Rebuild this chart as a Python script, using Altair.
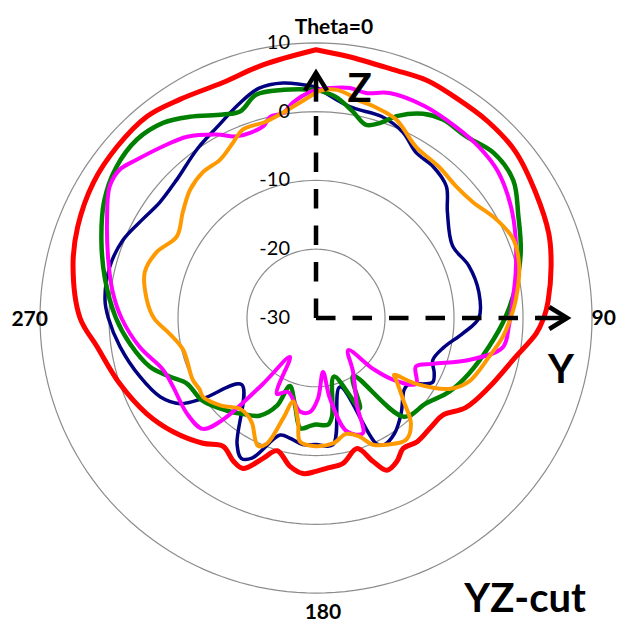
import altair as alt
import pandas as pd

# ---------------- data (theta in degrees clockwise from top, value in dB) ----------------
RED_THETA = [0, 7, 17, 25, 32, 41, 50, 60, 70, 77.5, 86, 90, 94, 101, 112, 121, 127.4, 133.5, 140.8, 146.4,
             150.6, 155.1, 158.4, 162.6, 169.5, 175.8, 180, 184.8, 189.9, 196.3, 200.6, 205.8, 210, 215.8, 222,
             231.4, 240.4, 251.4, 262.5, 270, 282, 291, 301.4, 310.8, 320.1, 328.2, 338.5, 348.2, 360]
RED_DB = [9.0, 8.3, 7.8, 8.1, 7.9, 7.9, 7.7, 6.7, 5.9, 4.9, 3.7, 3.0, 2.0, -0.5, -3.0, -4.7, -6.8, -7.0, -6.8, -7.2,
          -6.1, -5.6, -7.6, -10.1, -8.5, -8.1, -7.7, -7.3, -8.1, -9.9, -8.2, -5.7, -6.0, -7.0, -5.5,
          -3.5, -1.8, 0.0, 2.0, 4.2, 6.0, 7.0, 7.8, 8.1, 8.2, 7.4, 6.8, 7.6, 9.0]

NAVY_THETA = [0, 9, 18, 25, 31, 37.6, 44.6, 51, 62, 71, 81, 90, 96, 103, 110, 115, 119, 126, 129.3, 138.5,
              146, 152, 154.5, 161, 172.4, 180, 186, 192, 197, 204.5, 208, 212, 228, 234.4, 237.7, 243,
              251.5, 261.6, 270, 275, 284, 292, 300, 306.6, 315, 325, 333, 340, 346, 352, 360]
NAVY_DB = [3.6, 1.1, 0.8, -0.2, -1.9, -2.2, -3.1, -5.5, -7.6, -6.6, -6.1, -6.4, -8.6, -11.0, -12.0, -11.1, -10.7,
           -13.5, -13.5, -11.4, -9.7, -9.1, -9.8, -19.4, -11.4, -11.6, -11.5, -12.1, -12.2, -7.6, -6.9, -8.4,
           -15.5, -9.9, -6.7, -4.7, -3.1, -1.3, 0.1, 0.7, 0.8, 0.2, -1.1, -1.8, -1.5, 0.0, 1.3, 3.0, 4.4, 4.5, 3.6]

GREEN_THETA = [0, 5, 10, 14.5, 18, 22, 27.6, 32.5, 39.5, 47, 55, 63, 72, 81, 90, 99.5, 110, 119, 128, 138.4,
               147.5, 154.2, 163, 170.8, 173.6, 180, 183, 188, 193.4, 201, 204, 210, 217, 224, 234, 243, 248,
               253.6, 262, 270, 280.5, 290, 299, 307, 315, 322, 328, 335.5, 340, 345, 352, 360]
GREEN_DB = [3.2, 2.3, 0.5, -1.0, -0.2, 1.7, 3.5, 4.2, 4.2, 5.2, 4.9, 2.9, 1.2, -0.7, -2.6, -4.6, -6.4, -7.9, -9.8,
            -10.8, -20.0, -15.4, -21.1, -15.5, -14.4, -14.5, -14.3, -13.8, -16.9, -19.4, -16.0, -13.6, -12.5,
            -11.3, -9.6, -9.0, -7.2, -4.9, -2.8, -1.0, 1.1, 3.1, 5.1, 6.3, 6.7, 6.0, 4.5, 2.5, 2.0, 3.6, 3.5, 3.2]

MAGENTA_THETA = [0, 3.5, 8.4, 12.5, 18, 27, 36, 43.5, 51, 60, 68, 77, 85, 92, 99, 105.4, 111.5, 116, 123.4,
                 128.8, 131.8, 135, 145.6, 155, 158, 164.8, 170.2, 172.6, 178.6, 183.7, 189.7, 200.7, 207.2,
                 213.7, 218.8, 222.4, 225.5, 233.3, 244.2, 251.2, 260.6, 270, 277.3, 285.8, 295.3, 302.6,
                 307.2, 311.6, 318.3, 324.7, 331.7, 336.5, 344.6, 347.2, 351, 353.9, 358.5, 360]
MAGENTA_DB = [3.1, 3.5, 3.8, 3.5, 4.4, 4.6, 4.4, 4.3, 3.9, 2.6, 1.2, -0.3, -1.4, -2.0, -2.6, -7.0, -11.8, -13.9,
              -12.6, -15.7, -18.9, -23.4, -20.5, -15.9, -11.9, -12.9, -18.1, -22.1, -18.3, -16.3, -16.2, -18.5,
              -17.6, -23.2, -17.7, -10.0, -7.0, -6.7, -7.0, -6.6, -4.1, -1.8, -0.3, 1.3, 3.5, 5.5, 5.7, 4.7,
              3.4, 2.3, 0.3, -1.2, -1.1, 0.0, 0.2, 1.5, 2.9, 3.1]

ORANGE_THETA = [0, 2, 5.2, 8.4, 10.6, 16, 22, 30.2, 39, 46.7, 53.5, 61.2, 68.1, 75.6, 84.6, 90, 95.8, 102.7,
                112.7, 118.1, 123.4, 126.2, 127.8, 133.7, 138.1, 143.6, 150.1, 155.8, 160.1, 165.5, 172.3,
                181.3, 187.4, 189.8, 195.3, 198.1, 201.3, 204.4, 211.1, 214.8, 219.9, 227.5, 235, 238.5, 243.2,
                256.5, 263.7, 270, 276.4, 285.1, 292.5, 300.5, 308.6, 315.7, 322.3, 328.9, 334.8, 338.9,
                344.9, 347, 353.8, 359.2, 360]
ORANGE_DB = [2.8, 3.2, 3.3, 2.8, 2.3, 1.8, 1.1, -1.2, -1.7, -2.1, -1.7, -0.2, 0.8, 0.4, -0.9, -1.8, -2.8, -4.3,
             -6.0, -8.1, -12.6, -16.0, -15.3, -12.4, -9.4, -8.0, -8.8, -9.8, -11.7, -12.6, -11.6,
             -11.4, -11.9, -14.7, -17.4, -14.6, -10.4, -9.6, -12.1, -12.7, -12.8, -11.2, -10.0, -10.2, -10.0,
             -10.2, -8.7, -6.5, -5.3, -4.3, -5.0, -6.6, -5.3, -3.9, -3.2, -3.1, -1.8, -0.6,
             -0.6, -0.4, 0.9, 2.5, 2.8]

SERIES_NAMES = ["red", "navy", "green", "magenta", "orange"]
SERIES_COLORS = ["#FF0000", "#000080", "#008000", "#FF00FF", "#FF9900"]
SERIES_WIDTHS = [5, 3.5, 4.5, 4, 4]
SERIES_DATA = [(RED_THETA, RED_DB), (NAVY_THETA, NAVY_DB), (GREEN_THETA, GREEN_DB),
               (MAGENTA_THETA, MAGENTA_DB), (ORANGE_THETA, ORANGE_DB)]

RING_VALUES = [-20, -10, 0, 10]
RADIAL_TICKS = [-30, -20, -10, 0, 10]
CENTER_DB = -30
AXIS_TIP_Z = 5.65   # dB position of the Z arrow tip
AXIS_TIP_Y = 6.4    # dB position of the Y arrow tip

# ---------------- geometry helpers ----------------
X_DOMAIN = [-44.64, 44.20]
Y_DOMAIN = [-44.49, 45.07]
W, H = 613, 616
FONT = "Lato"

xs = alt.Scale(domain=X_DOMAIN, nice=False, zero=False)
ys = alt.Scale(domain=Y_DOMAIN, nice=False, zero=False)
CALC_X = f"max(datum.db - ({CENTER_DB}), 0) * sin(datum.theta * PI / 180)"
CALC_Y = f"max(datum.db - ({CENTER_DB}), 0) * cos(datum.theta * PI / 180)"


def polar_line(df, color, width, dash=None, detail=None, cap="round", interp="linear"):
    kw = dict(color=color, strokeWidth=width, strokeJoin="round", strokeCap=cap, interpolate=interp)
    if dash:
        kw["strokeDash"] = dash
    enc = dict(x=alt.X("x:Q", scale=xs, axis=None), y=alt.Y("y:Q", scale=ys, axis=None), order="i:Q")
    if detail:
        enc["detail"] = detail
    return alt.Chart(df).transform_calculate(x=CALC_X, y=CALC_Y).mark_line(**kw).encode(**enc)


def xy_line(df, color, width):
    return alt.Chart(df).mark_line(color=color, strokeWidth=width, strokeJoin="miter",
                                   strokeCap="butt").encode(
        x=alt.X("x:Q", scale=xs, axis=None), y=alt.Y("y:Q", scale=ys, axis=None), order="i:Q")


layers = []

# rings
ring_rows = []
for rv in RING_VALUES:
    for k, a in enumerate(range(0, 361, 2)):
        ring_rows.append({"ring": rv, "theta": a, "db": rv, "i": k})
layers.append(polar_line(pd.DataFrame(ring_rows), "#8c8c8c", 1.2, detail="ring:N"))

# series
for name, (th, db), col, w in zip(SERIES_NAMES, SERIES_DATA, SERIES_COLORS, SERIES_WIDTHS):
    df = pd.DataFrame({"theta": th, "db": db, "i": list(range(len(th)))})
    layers.append(polar_line(df, col, w, interp="catmull-rom"))

# axes (dashed shafts from the centre, solid ends, open arrowheads)
SOLID_LEN = 4.0
for ang, tip in [(0, AXIS_TIP_Z), (90, AXIS_TIP_Y)]:
    dashed = pd.DataFrame({"theta": [ang, ang], "db": [CENTER_DB, tip - SOLID_LEN], "i": [0, 1]})
    layers.append(polar_line(dashed, "black", 4.5, dash=[19.5, 17], cap="butt"))
    solid = pd.DataFrame({"theta": [ang, ang], "db": [tip - SOLID_LEN - 0.2, tip], "i": [0, 1]})
    layers.append(polar_line(solid, "black", 4.5, cap="butt"))

BACK, SIDE = 2.6, 1.6
uz = AXIS_TIP_Z - CENTER_DB
uy = AXIS_TIP_Y - CENTER_DB
head_z = pd.DataFrame({"x": [-SIDE, 0, SIDE], "y": [uz - BACK, uz, uz - BACK], "i": [0, 1, 2]})
head_y = pd.DataFrame({"x": [uy - BACK, uy, uy - BACK], "y": [SIDE, 0, -SIDE], "i": [0, 1, 2]})
layers.append(xy_line(head_z, "black", 4.5))
layers.append(xy_line(head_y, "black", 4.5))

# radial tick labels
tick_df = pd.DataFrame({"x": [-3.77] * len(RADIAL_TICKS),
                        "y": [t - CENTER_DB for t in RADIAL_TICKS],
                        "label": [str(t) for t in RADIAL_TICKS]})
layers.append(alt.Chart(tick_df).mark_text(align="right", baseline="middle", font=FONT, fontSize=20,
                                           color="black").encode(
    x=alt.X("x:Q", scale=xs, axis=None), y=alt.Y("y:Q", scale=ys, axis=None), text="label:N"))

# angle labels and titles
ANN_TEXT = ["Theta=0", "90", "270", "180", "Z", "Y", "YZ-cut"]
ANN_X = [2.6, 41.7, -41.5, 1.0, 6.3, 35.5, 30.3]
ANN_Y = [42.2, -0.1, -0.3, -42.9, 33.1, -7.7, -41.0]
ANN_SIZE = [21, 21, 21, 21, 40, 40, 40]
ann_df = pd.DataFrame({"x": ANN_X, "y": ANN_Y, "label": ANN_TEXT, "fs": ANN_SIZE})
layers.append(alt.Chart(ann_df).mark_text(align="center", baseline="middle", font=FONT, fontWeight="bold",
                                          color="black").encode(
    x=alt.X("x:Q", scale=xs, axis=None), y=alt.Y("y:Q", scale=ys, axis=None), text="label:N",
    size=alt.Size("fs:Q", scale=None)))

chart = alt.layer(*layers).properties(
    width=W, height=H, padding=0, autosize=alt.AutoSizeParams(type="none"), background="white"
).configure_view(stroke=None)

chart.save("out.html", embed_options={"renderer": "svg", "actions": False})
